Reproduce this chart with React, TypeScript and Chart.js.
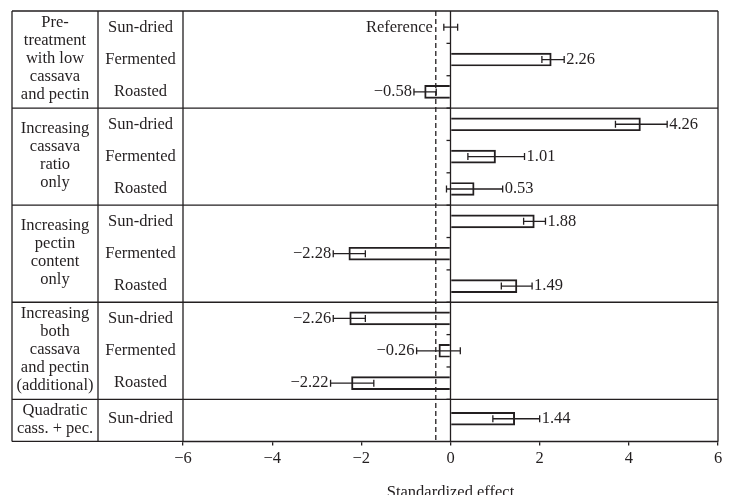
import React, { useEffect, useRef } from 'react';
import { Chart, registerables } from 'chart.js';
Chart.register(...registerables);

const groupLabels: string[][] = [
  ['Pre-', 'treatment', 'with low', 'cassava', 'and pectin'],
  ['Increasing', 'cassava', 'ratio', 'only'],
  ['Increasing', 'pectin', 'content', 'only'],
  ['Increasing', 'both', 'cassava', 'and pectin', '(additional)'],
  ['Quadratic', 'cass. + pec.'],
];
const groupBounds = [0, 3, 6, 9, 12, 13.3];
const rowLabels = [
  'Sun-dried', 'Fermented', 'Roasted',
  'Sun-dried', 'Fermented', 'Roasted',
  'Sun-dried', 'Fermented', 'Roasted',
  'Sun-dried', 'Fermented', 'Roasted',
  'Sun-dried',
];
const rowPositions = [0.5, 1.5, 2.5, 3.5, 4.5, 5.5, 6.5, 7.5, 8.5, 9.5, 10.5, 11.5, 12.6];
const effects: (number | null)[] = [null, 2.26, -0.58, 4.26, 1.01, 0.53, 1.88, -2.28, 1.49, -2.26, -0.26, -2.22, 1.44];
const errLow = [-0.15, 2.05, -0.82, 3.7, 0.39, -0.09, 1.64, -2.63, 1.14, -2.63, -0.76, -2.69, 0.95];
const errHigh = [0.16, 2.55, -0.32, 4.86, 1.66, 1.17, 2.13, -1.91, 1.83, -1.91, 0.22, -1.72, 2.0];
const valueLabels = ['Reference', '2.26', '−0.58', '4.26', '1.01', '0.53', '1.88', '−2.28', '1.49', '−2.26', '−0.26', '−2.22', '1.44'];
const xTicks = [-6, -4, -2, 0, 2, 4, 6];
const threshold = -0.33;

const FONT_FAMILY = '"Liberation Serif", "Times New Roman", serif';
const FONT_SIZE = 16.5;
const INK = '#231f20';
const TABLE_LEFT = 12;
const TABLE_MID = 98;

const tablePlugin = {
  id: 'tablePlugin',
  afterDatasetsDraw(chart: any) {
    const { ctx, chartArea, scales } = chart;
    const xs = scales.x;
    const ys = scales.y;
    const top = chartArea.top;
    const bottom = chartArea.bottom;
    ctx.save();
    ctx.strokeStyle = INK;
    ctx.fillStyle = INK;
    ctx.lineWidth = 1.3;

    // zero line
    const x0 = xs.getPixelForValue(0);
    ctx.beginPath();
    ctx.moveTo(x0, top);
    ctx.lineTo(x0, bottom);
    ctx.stroke();
    for (let k = 1; k <= 12; k++) {
      const y = ys.getPixelForValue(k);
      ctx.beginPath();
      ctx.moveTo(x0 - 4, y);
      ctx.lineTo(x0, y);
      ctx.stroke();
    }

    // dashed threshold
    const xt = xs.getPixelForValue(threshold);
    ctx.setLineDash([5, 3]);
    ctx.beginPath();
    ctx.moveTo(xt, top);
    ctx.lineTo(xt, bottom);
    ctx.stroke();
    ctx.setLineDash([]);

    // error bars
    for (let i = 0; i < rowPositions.length; i++) {
      const y = ys.getPixelForValue(rowPositions[i]);
      const xl = xs.getPixelForValue(errLow[i]);
      const xh = xs.getPixelForValue(errHigh[i]);
      ctx.beginPath();
      ctx.moveTo(xl, y);
      ctx.lineTo(xh, y);
      ctx.moveTo(xl, y - 3.5);
      ctx.lineTo(xl, y + 3.5);
      ctx.moveTo(xh, y - 3.5);
      ctx.lineTo(xh, y + 3.5);
      ctx.stroke();
    }

    // value labels
    ctx.font = `${FONT_SIZE}px ${FONT_FAMILY}`;
    ctx.textBaseline = 'middle';
    for (let i = 0; i < rowPositions.length; i++) {
      const y = ys.getPixelForValue(rowPositions[i]);
      const v = effects[i];
      if (v === null) {
        ctx.textAlign = 'right';
        ctx.fillText(valueLabels[i], xt - 3, y);
      } else if (v >= 0) {
        ctx.textAlign = 'left';
        ctx.fillText(valueLabels[i], xs.getPixelForValue(errHigh[i]) + 2, y);
      } else {
        ctx.textAlign = 'right';
        ctx.fillText(valueLabels[i], xs.getPixelForValue(errLow[i]) - 2, y);
      }
    }

    // frame and table lines
    const left = chartArea.left;
    const right = chartArea.right;
    ctx.beginPath();
    ctx.moveTo(left, top);
    ctx.lineTo(left, bottom);
    ctx.moveTo(right, top);
    ctx.lineTo(right, bottom);
    ctx.moveTo(TABLE_LEFT, top);
    ctx.lineTo(TABLE_LEFT, bottom);
    ctx.moveTo(TABLE_MID, top);
    ctx.lineTo(TABLE_MID, bottom);
    for (const b of groupBounds) {
      const y = ys.getPixelForValue(b);
      ctx.moveTo(TABLE_LEFT, y);
      ctx.lineTo(right, y);
    }
    ctx.stroke();

    // row labels
    ctx.textAlign = 'center';
    const subX = (TABLE_MID + left) / 2;
    for (let i = 0; i < rowLabels.length; i++) {
      ctx.fillText(rowLabels[i], subX, ys.getPixelForValue(rowPositions[i]));
    }
    // group labels
    const grpX = (TABLE_LEFT + TABLE_MID) / 2;
    const lh = 18;
    for (let g = 0; g < groupLabels.length; g++) {
      const yc = (ys.getPixelForValue(groupBounds[g]) + ys.getPixelForValue(groupBounds[g + 1])) / 2 - 1;
      const lines = groupLabels[g];
      const start = yc - ((lines.length - 1) * lh) / 2;
      lines.forEach((t, j) => ctx.fillText(t, grpX, start + j * lh));
    }
    ctx.restore();
  },
};

export default function App() {
  const ref = useRef<HTMLCanvasElement | null>(null);
  useEffect(() => {
    if (!ref.current) return;
    const chart = new Chart(ref.current, {
      type: 'bar',
      data: {
        datasets: [
          {
            data: effects
              .map((v, i) => ({ x: v, y: rowPositions[i] }))
              .filter((d) => d.x !== null) as any,
            backgroundColor: 'rgba(255,255,255,0)',
            borderColor: INK,
            borderWidth: 1.3,
            barThickness: 13,
          },
        ],
      },
      options: {
        indexAxis: 'y',
        animation: false,
        responsive: false,
        devicePixelRatio: 1,
        layout: { padding: { left: 183, right: 15, top: 11, bottom: 0 } },
        plugins: { legend: { display: false }, tooltip: { enabled: false } },
        scales: {
          y: {
            type: 'linear',
            reverse: true,
            min: 0,
            max: 13.3,
            offset: false,
            display: false,
            grid: { offset: false },
          },
          x: {
            type: 'linear',
            min: -6,
            max: 6,
            afterBuildTicks: (s: any) => {
              s.ticks = xTicks.map((v) => ({ value: v }));
            },
            ticks: {
              padding: 3,
              color: INK,
              font: { family: FONT_FAMILY, size: FONT_SIZE },
              callback: (v: any) => (Number(v) < 0 ? '−' + Math.abs(Number(v)) : String(v)),
            },
            grid: {
              display: true,
              drawOnChartArea: false,
              drawTicks: true,
              tickLength: 4,
              color: INK,
              lineWidth: 1.3,
            },
            border: { display: true, color: INK, width: 1.3 },
            title: {
              display: true,
              text: 'Standardized effect',
              color: INK,
              font: { family: FONT_FAMILY, size: FONT_SIZE },
              padding: { top: 12, bottom: 0 },
            },
          },
        },
      },
      plugins: [tablePlugin],
    });
    return () => chart.destroy();
  }, []);
  return (
    <div style={{ position: 'fixed', left: 0, top: 0, width: 733, height: 495, overflow: 'hidden', background: '#fff' }}>
      <canvas ref={ref} width={733} height={503} style={{ display: 'block' }} />
    </div>
  );
}
